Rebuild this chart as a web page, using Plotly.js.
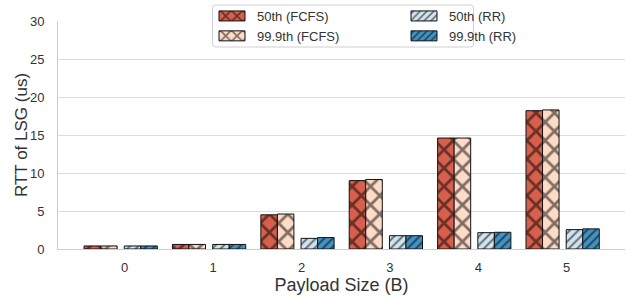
<!DOCTYPE html>
<html>
<head>
<meta charset="utf-8">
<script src="https://cdn.plot.ly/plotly-3.0.1.min.js"></script>
<style>html,body{margin:0;padding:0;background:#fff;}#chart{width:626px;height:298px;}</style>
</head>
<body>
<div id="chart"></div>
<script>
const payloadSizes = [0, 1, 2, 3, 4, 5];
const tickLabels = ["0", "1", "2", "3", "4", "5"];
const fcfs50 = [0.4, 0.6, 4.5, 9.0, 14.6, 18.2];
const fcfs999 = [0.4, 0.6, 4.6, 9.15, 14.6, 18.3];
const rr50 = [0.4, 0.6, 1.4, 1.75, 2.15, 2.55];
const rr999 = [0.4, 0.6, 1.5, 1.75, 2.2, 2.65];
const seriesNames = ["50th (FCFS)", "50th (RR)", "99.9th (FCFS)", "99.9th (RR)"];

const W = 0.187;
function bar(name, y, color, off, shape, size, solidity) {
  return {
    type: 'bar', name: name, x: payloadSizes, y: y, width: W, offset: off,
    marker: {
      color: color,
      line: {color: '#111', width: 1},
      pattern: {shape: shape, fgcolor: '#000', bgcolor: color, size: size, solidity: solidity, fillmode: 'overlay'}
    },
    hoverinfo: 'skip'
  };
}
const data = [
  bar(seriesNames[0], fcfs50, '#d6604d', -0.46, 'x', 13, 0.38),
  bar(seriesNames[1], rr50, '#d1e5f0', -0.005, '/', 6, 0.35),
  bar(seriesNames[2], fcfs999, '#fddbc7', -0.273, 'x', 13, 0.38),
  bar(seriesNames[3], rr999, '#4393c3', 0.182, '/', 6, 0.35)
];
const font = 'Liberation Sans, Arial, sans-serif';
const plotL = 58, plotW = 626 - 58 - 1, plotT = 21, plotH = 298 - 21 - 49;
function px(x) { return (x - plotL) / plotW; }
function py(y) { return 1 - (y - plotT) / plotH; }
const bx0 = px(212.5), bx1 = px(473.5), by0 = py(47), by1 = py(5);
const r = 3 / plotW, ry = 3 / plotH;
const boxPath = 'M' + (bx0 + r) + ',' + by1 + ' L' + (bx1 - r) + ',' + by1 +
  ' Q' + bx1 + ',' + by1 + ' ' + bx1 + ',' + (by1 - ry) +
  ' L' + bx1 + ',' + (by0 + ry) + ' Q' + bx1 + ',' + by0 + ' ' + (bx1 - r) + ',' + by0 +
  ' L' + (bx0 + r) + ',' + by0 + ' Q' + bx0 + ',' + by0 + ' ' + bx0 + ',' + (by0 + ry) +
  ' L' + bx0 + ',' + (by1 - ry) + ' Q' + bx0 + ',' + by1 + ' ' + (bx0 + r) + ',' + by1 + ' Z';
const layout = {
  width: 626, height: 298,
  margin: {l: 58, r: 1, t: 21, b: 49, pad: 0},
  paper_bgcolor: '#fff', plot_bgcolor: '#fff',
  barmode: 'overlay',
  font: {family: font, color: '#333', size: 13},
  xaxis: {
    range: [-0.755, 5.66], tickvals: payloadSizes, ticktext: tickLabels,
    showgrid: false, zeroline: false, showline: true, linecolor: '#ccc', linewidth: 1,
    ticks: '', ticklabelstandoff: 6,
    tickfont: {size: 13, color: '#333'},
    title: {text: 'Payload Size (B)', font: {size: 18, color: '#333'}, standoff: 4}
  },
  yaxis: {
    range: [0, 30], tickvals: [0, 5, 10, 15, 20, 25, 30],
    showgrid: true, gridcolor: '#dcdcdc', gridwidth: 1,
    zeroline: false, showline: true, linecolor: '#ccc', linewidth: 1,
    ticks: '', ticklabelstandoff: 10,
    tickfont: {size: 13, color: '#333'}
  },
  annotations: [{
    text: 'RTT of LSG (us)', textangle: -90, xref: 'paper', yref: 'paper',
    x: px(21), y: py(135), xanchor: 'center', yanchor: 'middle', showarrow: false,
    font: {size: 17, color: '#333', family: font}
  }],
  shapes: [{
    type: 'path', xref: 'paper', yref: 'paper', path: boxPath,
    fillcolor: 'rgba(255,255,255,0.85)', line: {color: '#d0d0d0', width: 1}, layer: 'above'
  }],
  showlegend: true,
  legend: {
    orientation: 'h', x: px(217), xanchor: 'left', y: py(1), yanchor: 'top',
    entrywidth: 147, entrywidthmode: 'pixels',
    bgcolor: 'rgba(0,0,0,0)', borderwidth: 0,
    font: {size: 13, color: '#333'}, traceorder: 'normal'
  }
};
Plotly.newPlot('chart', data, layout, {staticPlot: true, displayModeBar: false}).then(function (gd) {
  document.querySelectorAll('#chart .legend .legendpoints path').forEach(function (p) {
    p.setAttribute('d', 'M8,5H-18V-5H8Z');
  });
});
</script>
</body>
</html>
